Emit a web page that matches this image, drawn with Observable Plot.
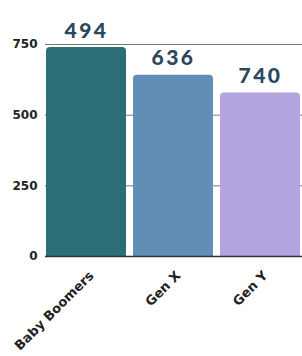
<!DOCTYPE html>
<html>
<head>
<meta charset="utf-8">
<script src="https://cdn.jsdelivr.net/npm/d3@7"></script>
<script src="https://cdn.jsdelivr.net/npm/@observablehq/plot@0.6"></script>
<style>
  html, body { margin: 0; padding: 0; background: #fff; }
  #chart svg { display: block; }
  #chart g[aria-label="text"] text { letter-spacing: 2.5px; }
</style>
</head>
<body>
<div id="chart"></div>
<script>
const categories = ["Baby Boomers", "Gen X", "Gen Y"];
const barValues = [739, 641, 578];
const labelTexts = ["494", "636", "740"];
const colors = ["#2d6e76", "#628db7", "#b3a3de"];
const yTicks = [0, 250, 500, 750];

const data = categories.map((c, i) => ({ category: c, value: barValues[i], label: labelTexts[i] }));

const chart = Plot.plot({
  width: 302,
  height: 356,
  marginLeft: 45,
  marginRight: 0,
  marginTop: 44,
  marginBottom: 100,
  style: { fontFamily: "DejaVu Sans", fontSize: "12px", fontWeight: "bold", color: "#222", background: "#fff" },
  x: { domain: categories, paddingInner: 0.08, paddingOuter: 0.017, label: null },
  y: { domain: [0, 750], ticks: yTicks, tickSize: 0, tickPadding: 8, label: null },
  color: { domain: categories, range: colors },
  marks: [
    Plot.gridY(yTicks.filter(t => t > 0), { stroke: "#777", strokeOpacity: 1, strokeWidth: 1 }),
    Plot.barY(data, { x: "category", y: "value", fill: "category", rx: 4 }),
    Plot.barY(data, { x: "category", y: d => d.value / 2, fill: "category" }),
    Plot.ruleY([0], { stroke: "#333", strokeWidth: 1.5 }),
    Plot.axisX({ tickRotate: -45, tickSize: 0, tickPadding: 17, dx: 5, fontSize: 13, label: null }),
    Plot.text(data, { x: "category", y: "value", text: "label", lineAnchor: "bottom", dy: -10,
      fill: "#2a475e", fontFamily: "Lato", fontWeight: 900, fontSize: 21 })
  ]
});
document.getElementById("chart").appendChild(chart);
</script>
</body>
</html>
